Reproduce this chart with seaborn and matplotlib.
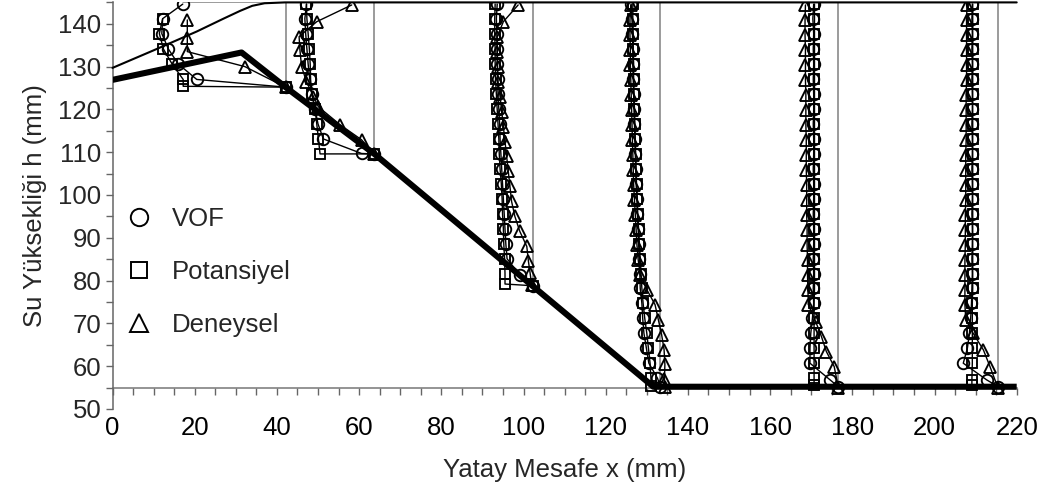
import matplotlib
matplotlib.use("Agg")
import matplotlib.pyplot as plt
from matplotlib.lines import Line2D
from matplotlib.ticker import MultipleLocator
import seaborn as sns

# ---------------- data ----------------
bed_x = [0, 31.4, 42.1, 63.7, 131.6, 220]
bed_y = [126.9, 133.3, 125.2, 109.6, 55.2, 55.2]

surf_x = [0, 10, 20.5, 27.0, 31.0, 34.0, 37.0, 42.0, 220]
surf_y = [129.7, 133.8, 138.2, 141.2, 143.0, 144.2, 144.8, 145, 145]

gauge_x = [42.1, 63.7, 102.2, 133.3, 176.6, 215.5]
gauge_bottom = [125.2, 109.6, 78.8, 55.2, 55.2, 55.2]
gauge_top = [145, 145, 145, 145, 145, 145]
lid_x = [17.1, 42.1]
lid_y = [145, 145]

# column 1
vof_x1 = [17.1, 12.2, 12.0, 13.6, 16.0, 20.5, 42.1]
vof_y1 = [144.6, 141.2, 137.7, 134.1, 130.6, 127.0, 125.2]
pot_x1 = [12.2, 11.4, 12.4, 14.5, 17.2, 17.2, 42.1]
pot_y1 = [141.2, 137.7, 134.1, 130.6, 127.0, 125.4, 125.2]
den_x1 = [18.2, 18.2, 18.2, 32.2, 42.1]
den_y1 = [140.9, 136.6, 133.5, 130.0, 125.2]

# column 2
vof_x2 = [47.2, 46.8, 47.0, 47.3, 47.6, 48.0, 48.6, 49.3, 50.0, 51.3, 60.6, 63.7]
vof_y2 = [144.6, 141.2, 137.7, 134.1, 130.6, 127.0, 123.5, 120.0, 116.6, 113.1, 109.7, 109.6]
pot_x2 = [47.2, 47.3, 47.6, 47.9, 48.1, 48.2, 48.5, 49.3, 49.7, 50.1, 50.5, 63.7]
pot_y2 = [144.6, 141.2, 137.7, 134.1, 130.6, 127.0, 123.5, 120.0, 116.6, 113.1, 109.6, 109.6]
den_x2 = [58.2, 49.7, 45.4, 45.6, 46.0, 47.2, 48.9, 50.1, 55.4, 60.6, 63.7]
den_y2 = [144.4, 140.5, 137.0, 133.9, 130.0, 126.5, 123.0, 120.6, 116.4, 112.9, 109.6]

# column 3
vof_x3 = [93.6, 93.4, 93.5, 93.6, 93.6, 93.7, 93.8, 94.0, 94.2, 94.3, 94.5, 94.7, 94.9, 95.1, 95.3, 95.5, 95.7, 96.0, 99.1, 102.2]
vof_y3 = [144.6, 141.2, 137.7, 134.1, 130.6, 127.0, 123.5, 120.0, 116.6, 113.1, 109.6, 106.1, 102.6, 99.1, 95.6, 92.1, 88.6, 85.1, 81.3, 78.8]
pot_x3 = [93.1, 93.0, 93.0, 93.1, 93.1, 93.2, 93.4, 93.6, 93.8, 94.0, 94.1, 94.3, 94.6, 94.8, 94.9, 95.1, 95.2, 95.4, 95.5, 95.5, 102.2]
pot_y3 = [144.6, 141.2, 137.7, 134.1, 130.6, 127.0, 123.5, 120.0, 116.6, 113.1, 109.6, 106.1, 102.6, 99.1, 95.6, 92.1, 88.6, 85.1, 81.6, 79.2, 78.8]
den_x3 = [98.7, 95.1, 93.6, 93.6, 93.7, 93.8, 94.3, 94.7, 95.1, 95.5, 95.9, 96.3, 96.7, 97.1, 97.9, 99.1, 100.8, 101.2, 101.6, 102.0]
den_y3 = [144.4, 140.5, 137.0, 133.5, 130.0, 126.5, 123.0, 119.5, 116.0, 112.5, 109.0, 105.5, 102.0, 98.5, 95.0, 91.5, 88.0, 84.5, 81.8, 79.0]

# column 4
vof_x4 = [126.2, 126.4, 126.5, 126.6, 126.6, 126.7, 126.8, 126.9, 127.0, 127.1, 127.2, 127.3, 127.4, 127.6, 127.7, 127.9, 128.0, 128.2, 128.3, 128.4, 128.8, 129.0, 129.3, 129.9, 130.5, 132.6, 133.3]
vof_y4 = [144.6, 141.2, 137.7, 134.1, 130.6, 127.0, 123.5, 120.0, 116.6, 113.1, 109.6, 106.1, 102.6, 99.1, 95.6, 92.1, 88.6, 85.1, 81.6, 78.2, 74.7, 71.2, 67.7, 64.2, 60.7, 57.2, 55.2]
pot_x4 = [126.6, 126.6, 126.7, 126.7, 126.8, 126.8, 126.9, 127.0, 127.1, 127.2, 127.3, 127.4, 127.5, 127.7, 127.8, 128.0, 128.2, 128.4, 128.6, 128.8, 129.1, 129.5, 130.0, 130.4, 130.8, 131.0, 131.1]
pot_y4 = [144.6, 141.2, 137.7, 134.1, 130.6, 127.0, 123.5, 120.0, 116.6, 113.1, 109.6, 106.1, 102.6, 99.1, 95.6, 92.1, 88.6, 85.1, 81.6, 78.2, 74.7, 71.2, 67.7, 64.2, 60.7, 57.2, 55.4]
den_x4 = [126.1, 125.9, 125.9, 126.0, 126.0, 126.1, 126.2, 126.3, 126.4, 126.5, 126.6, 126.7, 126.8, 127.0, 127.2, 127.4, 127.6, 127.9, 128.4, 130.0, 132.0, 132.8, 133.6, 134.2, 134.4, 134.3, 134.4]
den_y4 = [144.4, 140.9, 137.4, 133.9, 130.4, 126.9, 123.4, 119.9, 116.4, 112.9, 109.4, 105.9, 102.4, 98.9, 95.4, 91.9, 88.4, 84.9, 81.4, 77.9, 74.4, 70.9, 67.4, 63.9, 60.4, 56.9, 55.2]

# column 5
vof_x5 = [170.6, 170.4, 170.6, 170.5, 170.6, 170.5, 170.6, 170.6, 170.5, 170.6, 170.6, 170.5, 170.6, 170.6, 170.5, 170.6, 170.6, 170.5, 170.6, 170.5, 170.6, 170.3, 169.9, 169.7, 169.7, 174.6, 176.6]
vof_y5 = [144.6, 141.2, 137.7, 134.1, 130.6, 127.0, 123.5, 120.0, 116.6, 113.1, 109.6, 106.1, 102.6, 99.1, 95.6, 92.1, 88.6, 85.1, 81.6, 78.2, 74.7, 71.2, 67.7, 64.2, 60.7, 56.8, 55.2]
pot_x5 = [170.8, 170.8, 170.8, 170.8, 170.8, 170.8, 170.8, 170.8, 170.8, 170.8, 170.8, 170.8, 170.8, 170.8, 170.8, 170.8, 170.8, 170.8, 170.8, 170.8, 170.7, 170.7, 170.7, 170.7, 170.7, 170.7, 170.7]
pot_y5 = [144.6, 141.2, 137.7, 134.1, 130.6, 127.0, 123.5, 120.0, 116.6, 113.1, 109.6, 106.1, 102.6, 99.1, 95.6, 92.1, 88.6, 85.1, 81.6, 78.2, 74.7, 71.2, 67.7, 64.2, 60.7, 57.2, 55.5]
den_x5 = [168.6, 168.5, 168.5, 168.6, 168.6, 168.6, 168.7, 168.7, 168.7, 168.8, 168.8, 168.8, 168.9, 168.9, 168.9, 169.0, 169.0, 169.1, 169.1, 169.2, 169.3, 171.1, 172.5, 173.7, 175.6, 176.6]
den_y5 = [144.4, 140.9, 137.4, 133.9, 130.4, 126.9, 123.4, 119.9, 116.4, 112.9, 109.4, 105.9, 102.4, 98.9, 95.4, 91.9, 88.4, 84.9, 81.4, 77.9, 74.4, 70.4, 66.9, 63.4, 59.9, 55.0]

# column 6
vof_x6 = [209.2, 209.1, 209.2, 209.1, 209.2, 209.1, 209.2, 209.2, 209.1, 209.2, 209.2, 209.1, 209.2, 209.2, 209.1, 209.2, 209.2, 209.1, 209.2, 209.1, 209.0, 208.8, 208.5, 208.0, 207.0, 212.7, 215.5]
vof_y6 = [144.6, 141.2, 137.7, 134.1, 130.6, 127.0, 123.5, 120.0, 116.6, 113.1, 109.6, 106.1, 102.6, 99.1, 95.6, 92.1, 88.6, 85.1, 81.6, 78.2, 74.7, 71.2, 67.7, 64.2, 60.7, 56.8, 55.2]
pot_x6 = [209.3, 209.3, 209.3, 209.3, 209.3, 209.3, 209.3, 209.3, 209.3, 209.3, 209.3, 209.3, 209.3, 209.3, 209.3, 209.3, 209.3, 209.3, 209.3, 209.3, 209.2, 209.2, 209.2, 209.2, 209.2, 209.1, 209.1]
pot_y6 = [144.6, 141.2, 137.7, 134.1, 130.6, 127.0, 123.5, 120.0, 116.6, 113.1, 109.6, 106.1, 102.6, 99.1, 95.6, 92.1, 88.6, 85.1, 81.6, 78.2, 74.7, 71.2, 67.7, 64.2, 60.7, 56.8, 55.5]
den_x6 = [207.9, 207.8, 207.8, 207.8, 207.8, 207.8, 207.7, 207.7, 207.7, 207.7, 207.6, 207.6, 207.6, 207.6, 207.5, 207.5, 207.5, 207.4, 207.4, 207.4, 207.4, 207.6, 209.4, 211.9, 213.5, 215.5]
den_y6 = [144.4, 140.9, 137.4, 133.9, 130.4, 126.9, 123.4, 119.9, 116.4, 112.9, 109.4, 105.9, 102.4, 98.9, 95.4, 91.9, 88.4, 84.9, 81.4, 77.9, 74.4, 70.9, 67.7, 63.8, 59.9, 54.8]

series_labels = ["VOF", "Potansiyel", "Deneysel"]
x_ticks = [0, 20, 40, 60, 80, 100, 120, 140, 160, 180, 200, 220]
y_ticks = [50, 60, 70, 80, 90, 100, 110, 120, 130, 140]

# ---------------- style ----------------
sns.set_style("white")
plt.rcParams["font.family"] = ["Liberation Sans", "DejaVu Sans"]
FS = 18.5

fig = plt.figure(figsize=(10.46, 4.92), dpi=100)
ax = fig.add_axes([112.5 / 1046, 1 - 409 / 492, (1016.7 - 112.5) / 1046, (409 - 2.4) / 492])

GRAY = "#808080"
# gauge lines
ax.vlines(gauge_x, gauge_bottom, gauge_top, colors=GRAY, linewidth=1.1, zorder=1)
sns.lineplot(x=lid_x, y=lid_y, sort=False, estimator=None, color=GRAY, linewidth=1.1, ax=ax, zorder=1)

mk = dict(markerfacecolor="none", markeredgecolor="black", markeredgewidth=1.35)
line_kw = dict(sort=False, estimator=None, color="black", linewidth=1.0, ax=ax, zorder=4)

cols = [
    (vof_x1, vof_y1, pot_x1, pot_y1, den_x1, den_y1),
    (vof_x2, vof_y2, pot_x2, pot_y2, den_x2, den_y2),
    (vof_x3, vof_y3, pot_x3, pot_y3, den_x3, den_y3),
    (vof_x4, vof_y4, pot_x4, pot_y4, den_x4, den_y4),
    (vof_x5, vof_y5, pot_x5, pot_y5, den_x5, den_y5),
    (vof_x6, vof_y6, pot_x6, pot_y6, den_x6, den_y6),
]
for vx, vy, px, py, dx, dy in cols:
    sns.lineplot(x=vx, y=vy, marker="o", markersize=8.3, **mk, **line_kw)
    sns.lineplot(x=px, y=py, marker="s", markersize=7.8, **mk, **line_kw)
    sns.lineplot(x=dx, y=dy, marker="^", markersize=9.3, **mk, **line_kw)

# free surface line
sns.lineplot(x=surf_x, y=surf_y, sort=False, estimator=None, color="black", linewidth=1.5, ax=ax, zorder=5,
             clip_on=False)
# bed profile
sns.lineplot(x=bed_x, y=bed_y, sort=False, estimator=None, color="black", linewidth=4.4, ax=ax, zorder=6,
             solid_capstyle="butt")

ax.set_xlim(0, 220)
ax.set_ylim(50, 145)

for s in ["top", "right", "bottom"]:
    ax.spines[s].set_visible(False)
ax.spines["left"].set_color("#666666")
ax.spines["left"].set_linewidth(1.1)

ax.set_xticks(x_ticks)
ax.set_xticklabels([str(v) for v in x_ticks])
ax.tick_params(axis="x", length=0, pad=5, labelsize=FS, colors="black")
ax.set_yticks(y_ticks)
ax.set_yticklabels([str(v) for v in y_ticks])
ax.yaxis.set_minor_locator(MultipleLocator(5))
ax.tick_params(axis="y", which="both", direction="out", length=5, width=1.0, color="#666666",
               labelsize=FS, pad=3, left=True)

# horizontal axis crossing at 55
sec = ax.secondary_xaxis(5 / 95)
sec.xaxis.set_major_locator(MultipleLocator(5))
sec.tick_params(axis="x", which="both", direction="out", length=5, width=1.0, color="#666666",
                labelbottom=False)
sec.spines["bottom"].set_color("#777777")
sec.spines["bottom"].set_linewidth(1.1)

ax.set_xlabel("Yatay Mesafe x (mm)", fontsize=FS, labelpad=13)
ax.set_ylabel("Su Yüksekliği h (mm)", fontsize=FS, labelpad=8)

handles = [
    Line2D([], [], linestyle="none", marker="o", markersize=12.5, markerfacecolor="none",
           markeredgecolor="black", markeredgewidth=1.4),
    Line2D([], [], linestyle="none", marker="s", markersize=12, markerfacecolor="none",
           markeredgecolor="black", markeredgewidth=1.4),
    Line2D([], [], linestyle="none", marker="^", markersize=13, markerfacecolor="none",
           markeredgecolor="black", markeredgewidth=1.4),
]
ax.legend(handles, series_labels, loc="upper left", bbox_to_anchor=(125.8 / 1046, 1 - 207 / 492),
          bbox_transform=fig.transFigure, frameon=False, fontsize=FS, handlelength=1.0,
          handletextpad=0.8, labelspacing=1.13, borderpad=0, borderaxespad=0)

fig.savefig("out.png", dpi=100)
